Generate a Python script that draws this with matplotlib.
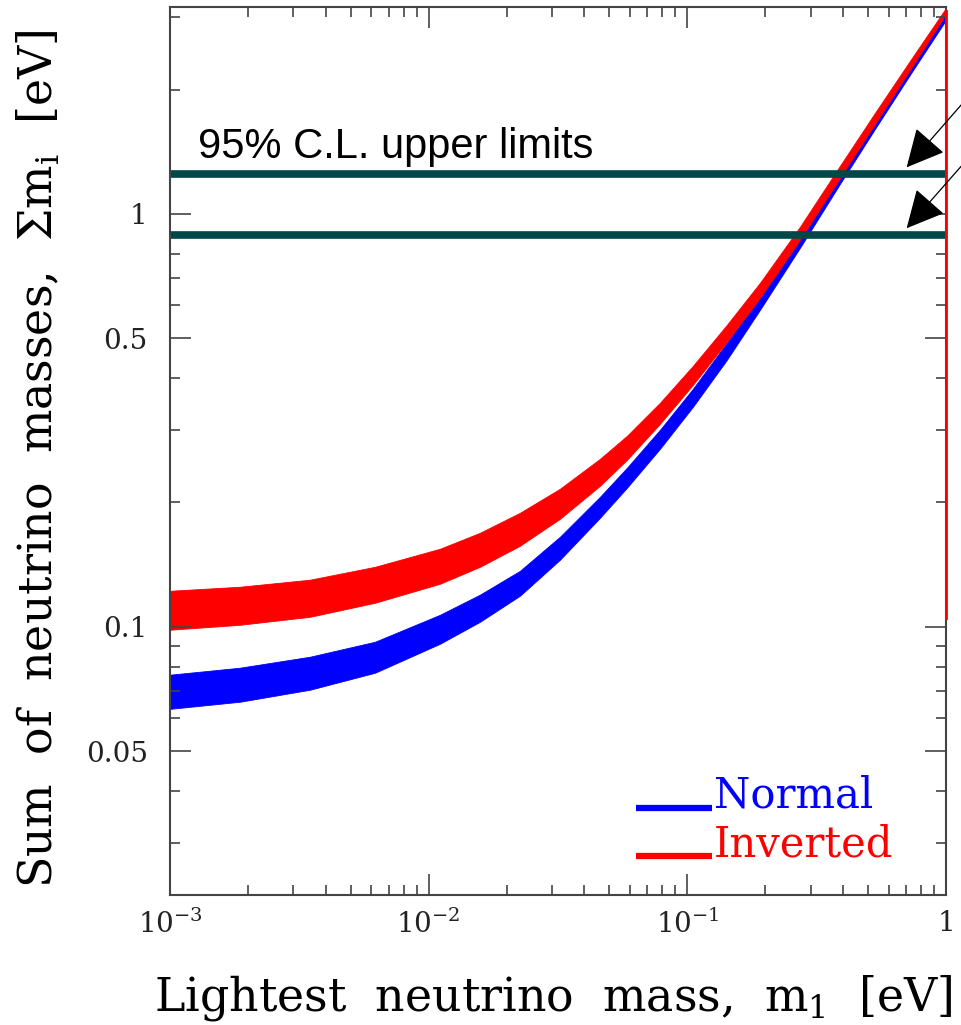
import matplotlib
matplotlib.use('agg')
import matplotlib.pyplot as plt
from matplotlib.ticker import FixedLocator, FixedFormatter, NullFormatter

# lightest neutrino mass [eV] and band edges for the mass sum [eV]
m1 = [1.000e-3, 1.864e-3, 3.476e-3, 6.201e-3, 1.106e-2, 1.579e-2, 2.254e-2, 3.218e-2,
      4.595e-2, 5.843e-2, 7.837e-2, 0.1051, 0.1422, 0.1908, 0.2724, 0.3889, 0.5312,
      0.7252, 1.0]
normal_hi = [0.07653, 0.07958, 0.08460, 0.09197, 0.1069, 0.1196, 0.1366, 0.1652,
             0.2064, 0.2427, 0.2999, 0.3770, 0.4872, 0.6402, 0.8994, 1.278, 1.727,
             2.295, 3.068]
normal_lo = [0.06326, 0.06582, 0.07038, 0.07737, 0.09096, 0.1028, 0.1189, 0.1453,
             0.1836, 0.2171, 0.2698, 0.3410, 0.4431, 0.5855, 0.8273, 1.182, 1.606,
             2.171, 2.950]
inverted_hi = [0.1222, 0.1250, 0.1300, 0.1397, 0.1545, 0.1689, 0.1888, 0.2159,
               0.2551, 0.2901, 0.3487, 0.4285, 0.5386, 0.6806, 0.9301, 1.307, 1.756,
               2.347, 3.154]
inverted_lo = [0.09834, 0.1011, 0.1057, 0.1143, 0.1271, 0.1397, 0.1571, 0.1826,
               0.2195, 0.2537, 0.3101, 0.3854, 0.4900, 0.6261, 0.8651, 1.222, 1.652,
               2.232, 3.051]

# 95% C.L. upper limits on the sum
limits = [1.25, 0.89]
# red edge drawn at m1 = 1
edge_y = [0.105, 3.1]

xticks = [1e-3, 1e-2, 1e-1, 1]
xticklabels = [r'$10^{-3}$', r'$10^{-2}$', r'$10^{-1}$', '1']
yticks = [0.05, 0.1, 0.5, 1]
yticklabels = ['0.05', '0.1', '0.5', '1']

plt.rcParams['font.family'] = 'DejaVu Serif'
plt.rcParams['mathtext.fontset'] = 'dejavuserif'

fig = plt.figure(figsize=(9.61, 10.25), dpi=100)
ax = fig.add_axes([170/961, 130/1025, 776/961, 888/1025])

ax.set_xscale('log')
ax.set_yscale('log')
ax.set_xlim(1e-3, 1)
ax.set_ylim(0.0224, 3.17)

ax.fill_between(m1, normal_lo, normal_hi, color='#0000ff', lw=0.6, edgecolor='#0000ff')
ax.fill_between(m1, inverted_lo, inverted_hi, color='#ff0000', lw=0.6, edgecolor='#ff0000')
ax.plot([1, 1], edge_y, color='#ff0000', lw=2, clip_on=False, zorder=3)

for lim in limits:
    ax.axhline(lim, xmin=0.005, xmax=1, color='#004848', lw=5.5)

ax.text(1.283e-3, 1.366, '95% C.L. upper limits', family='Liberation Sans',
        fontsize=30, color='black', va='baseline')

# arrows coming from outside the frame
for lim, tail in zip(limits, [2.0, 1.42]):
    ax.annotate('', xy=(0.693, lim * 1.025), xytext=(1.29, tail),
                annotation_clip=False,
                arrowprops=dict(arrowstyle='-|>,head_length=0.8,head_width=0.4',
                                mutation_scale=30, color='black', lw=0.9))

# legend drawn by hand
ax.plot([0.6005, 0.698], [0.098, 0.098], transform=ax.transAxes, color='#0000ff', lw=4.5,
        solid_capstyle='butt')
ax.plot([0.6005, 0.698], [0.0439, 0.0439], transform=ax.transAxes, color='#ff0000', lw=4.5,
        solid_capstyle='butt')
ax.text(0.701, 0.098, 'Normal', transform=ax.transAxes, color='#0000ff', fontsize=30,
        va='baseline')
ax.text(0.701, 0.0439, 'Inverted', transform=ax.transAxes, color='#ff0000', fontsize=30,
        va='baseline')

ax.xaxis.set_major_locator(FixedLocator(xticks))
ax.xaxis.set_major_formatter(FixedFormatter(xticklabels))
ax.xaxis.set_minor_locator(FixedLocator([k * 10.0**e for e in (-3, -2, -1) for k in range(2, 10)]))
ax.xaxis.set_minor_formatter(NullFormatter())
ax.yaxis.set_major_locator(FixedLocator(yticks))
ax.yaxis.set_major_formatter(FixedFormatter(yticklabels))
ax.yaxis.set_minor_locator(FixedLocator([0.03, 0.04, 0.06, 0.07, 0.08, 0.09,
                                         0.2, 0.3, 0.4, 0.6, 0.7, 0.8, 0.9, 2, 3]))
ax.yaxis.set_minor_formatter(NullFormatter())

ax.tick_params(which='both', direction='in', top=True, right=True, color='#444444', width=1.2)
ax.tick_params(which='major', length=15)
ax.tick_params(which='minor', length=7.5)
ax.tick_params(axis='y', which='major', labelsize=20, pad=16, labelcolor='#222222')
ax.tick_params(axis='x', which='major', labelsize=20, pad=11, labelcolor='#222222')

for s in ax.spines.values():
    s.set_color('#444444')
    s.set_linewidth(1.5)

ax.set_xlabel(r'Lightest  neutrino  mass,  $\mathrm{m}_\mathrm{1}$  [eV]', fontsize=33)
ax.set_ylabel(r'Sum  of  neutrino  masses,  $\Sigma\mathrm{m}_\mathrm{i}$  [eV]', fontsize=33)
ax.xaxis.set_label_coords(0.4936, -0.088)
ax.yaxis.set_label_coords(-0.138, 0.491)

plt.savefig('out.png', dpi=100)
